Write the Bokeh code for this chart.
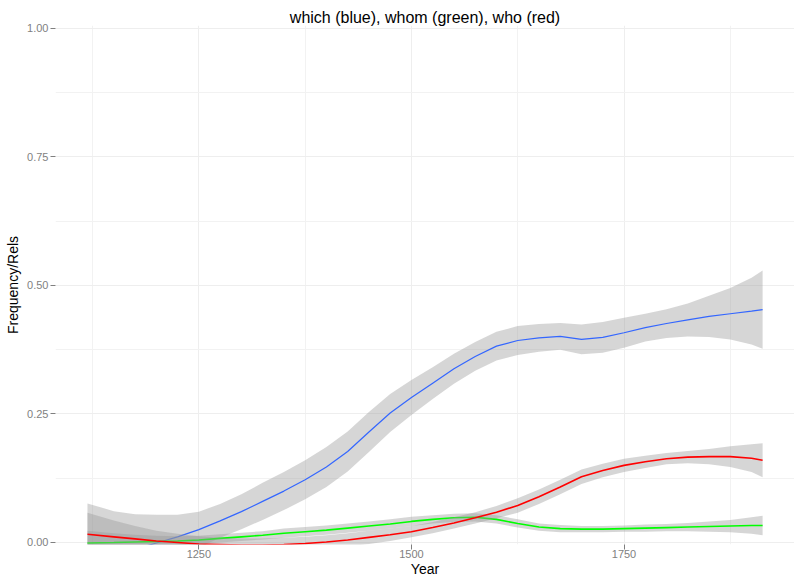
from bokeh.plotting import figure
from bokeh.models import FixedTicker, PrintfTickFormatter, Range1d
from bokeh.embed import file_html
from bokeh.resources import INLINE

# ---- data (loess fits and half-width of the confidence band) ----
years = [1119, 1150, 1175, 1200, 1225, 1250, 1275, 1300, 1325, 1350, 1375, 1400, 1425,
         1450, 1475, 1500, 1525, 1550, 1575, 1600, 1625, 1650, 1675, 1700, 1725, 1750,
         1775, 1800, 1825, 1850, 1875, 1900, 1913]

which_fit = [-0.035, -0.024, -0.013, -0.001, 0.011, 0.025, 0.042, 0.060, 0.080, 0.100, 0.122,
             0.147, 0.177, 0.215, 0.252, 0.282, 0.310, 0.338, 0.362, 0.382, 0.393, 0.398,
             0.401, 0.395, 0.399, 0.408, 0.418, 0.426, 0.433, 0.440, 0.445, 0.450, 0.453]
which_se = [0.111, 0.085, 0.068, 0.055, 0.043, 0.035, 0.033, 0.034, 0.036, 0.037, 0.038,
            0.039, 0.039, 0.039, 0.037, 0.034, 0.031, 0.029, 0.028, 0.028, 0.028, 0.027,
            0.026, 0.029, 0.030, 0.029, 0.027, 0.028, 0.032, 0.040, 0.050, 0.065, 0.076]

whom_fit = [-0.001, 0.000, 0.001, 0.002, 0.003, 0.005, 0.008, 0.011, 0.014, 0.018, 0.021,
            0.024, 0.028, 0.032, 0.036, 0.041, 0.045, 0.048, 0.049, 0.045, 0.037, 0.030,
            0.027, 0.026, 0.026, 0.027, 0.028, 0.029, 0.030, 0.031, 0.032, 0.033, 0.033]
whom_se = [0.024, 0.018, 0.014, 0.011, 0.009, 0.008, 0.008, 0.008, 0.008, 0.009, 0.009,
           0.009, 0.009, 0.009, 0.009, 0.009, 0.008, 0.008, 0.008, 0.008, 0.008, 0.007,
           0.007, 0.006, 0.006, 0.006, 0.007, 0.007, 0.008, 0.010, 0.012, 0.016, 0.019]

who_fit = [0.016, 0.011, 0.007, 0.003, 0.000, -0.003, -0.004, -0.005, -0.005, -0.004, -0.002,
           0.001, 0.005, 0.010, 0.015, 0.021, 0.029, 0.038, 0.048, 0.059, 0.072, 0.089,
           0.108, 0.128, 0.140, 0.150, 0.157, 0.163, 0.166, 0.167, 0.167, 0.164, 0.160]
who_se = [0.042, 0.032, 0.025, 0.020, 0.017, 0.015, 0.013, 0.013, 0.013, 0.013, 0.013,
          0.013, 0.013, 0.013, 0.012, 0.011, 0.011, 0.011, 0.011, 0.012, 0.014, 0.014,
          0.014, 0.014, 0.013, 0.013, 0.012, 0.011, 0.012, 0.015, 0.020, 0.027, 0.033]

x_ticks = [1250, 1500, 1750]
x_minor = [1125, 1375, 1625, 1875]
y_ticks = [0.0, 0.25, 0.5, 0.75, 1.0]
y_minor = [0.125, 0.375, 0.625, 0.875]

series = [
    (which_fit, which_se, "#3366FF", 1.2),
    (whom_fit, whom_se, "#00FF00", 1.6),
    (who_fit, who_se, "#FF0000", 1.6),
]

FONT = "Liberation Sans"

p = figure(width=794, height=579, output_backend="svg", toolbar_location=None,
           x_range=Range1d(1081.4, 1950.5), y_range=Range1d(-0.0039, 1.0058),
           min_border_left=55, min_border_right=0, min_border_top=25, min_border_bottom=0,
           title="which (blue), whom (green), who (red)")

p.background_fill_color = "white"
p.border_fill_color = "white"
p.outline_line_color = None

p.title.text_font = FONT
p.title.text_font_size = "16px"
p.title.text_font_style = "normal"
p.title.text_color = "black"
p.title.align = "center"
p.title.standoff = 0
p.title.offset = 0

for fit, se, color, lw in series:
    lower = [f - s for f, s in zip(fit, se)]
    upper = [f + s for f, s in zip(fit, se)]
    p.varea(x=years, y1=lower, y2=upper, fill_color="#999999", fill_alpha=0.4)
    p.line(x=years, y=fit, line_color=color, line_width=lw)

p.xaxis.ticker = FixedTicker(ticks=x_ticks, minor_ticks=x_minor)
p.yaxis.ticker = FixedTicker(ticks=y_ticks, minor_ticks=y_minor)
p.xaxis.formatter = PrintfTickFormatter(format="%d")
p.yaxis.formatter = PrintfTickFormatter(format="%.2f")

for ax in (p.xaxis, p.yaxis):
    ax.axis_line_color = None
    ax.minor_tick_line_color = None
    ax.major_tick_line_color = "#7F7F7F"
    ax.major_tick_in = 0
    ax.major_tick_out = 5
    ax.major_label_text_color = "#7F7F7F"
    ax.major_label_text_font = FONT
    ax.major_label_text_font_size = "11px"
    ax.axis_label_text_font = FONT
    ax.axis_label_text_font_size = "14px"
    ax.axis_label_text_font_style = "normal"
    ax.axis_label_text_color = "black"

p.xaxis.major_label_standoff = 0
p.xaxis.axis_label_standoff = 0
p.yaxis.major_label_standoff = 2
p.yaxis.axis_label_standoff = 3

p.xaxis.axis_label = "Year"
p.yaxis.axis_label = "Frequency/Rels"

for g in (p.xgrid, p.ygrid):
    g.grid_line_color = "#EEEEEE"
    g.grid_line_width = 1
    g.minor_grid_line_color = "#F2F2F2"
    g.minor_grid_line_width = 1

open("out.html", "w").write(file_html(p, INLINE))
